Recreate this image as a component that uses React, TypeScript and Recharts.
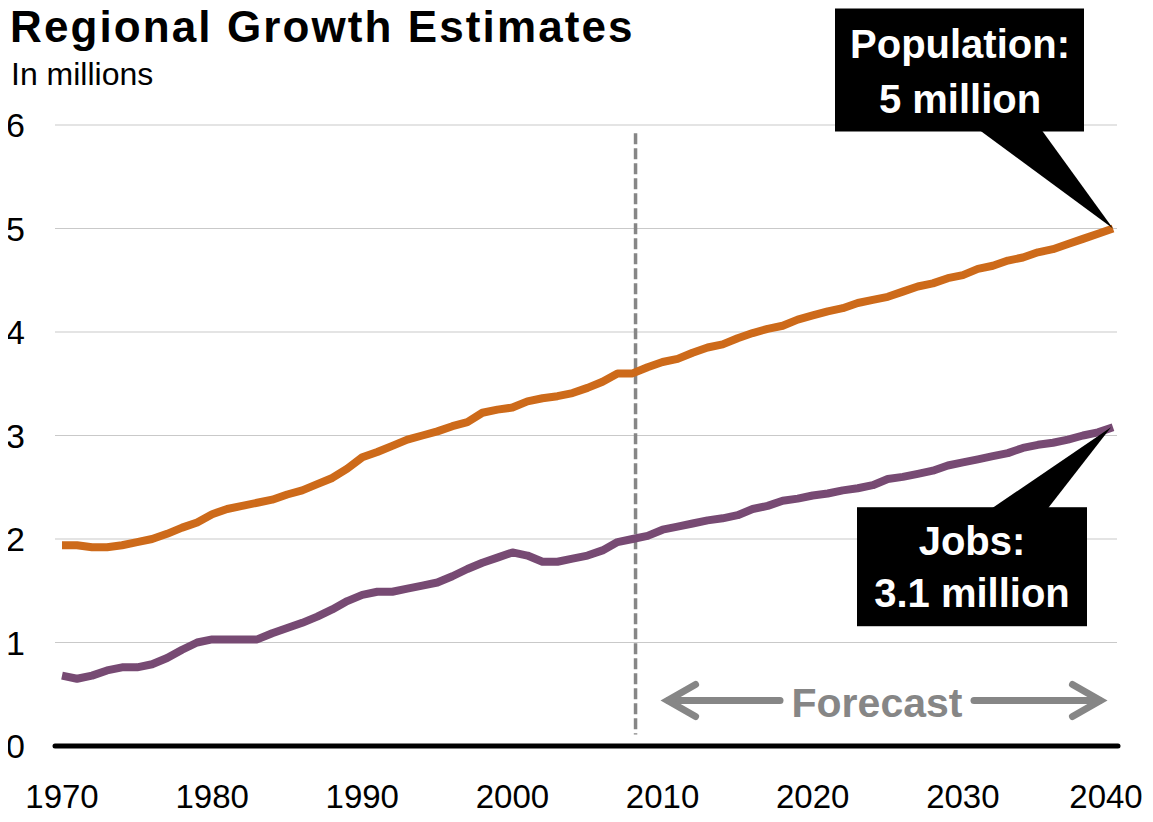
import React from 'react';
import { LineChart, Line, XAxis, YAxis, CartesianGrid, ReferenceLine, ReferenceDot } from 'recharts';

const years = [
  1970, 1971, 1972, 1973, 1974, 1975, 1976, 1977, 1978, 1979,
  1980, 1981, 1982, 1983, 1984, 1985, 1986, 1987, 1988, 1989,
  1990, 1991, 1992, 1993, 1994, 1995, 1996, 1997, 1998, 1999,
  2000, 2001, 2002, 2003, 2004, 2005, 2006, 2007, 2008, 2009,
  2010, 2011, 2012, 2013, 2014, 2015, 2016, 2017, 2018, 2019,
  2020, 2021, 2022, 2023, 2024, 2025, 2026, 2027, 2028, 2029,
  2030, 2031, 2032, 2033, 2034, 2035, 2036, 2037, 2038, 2039, 2040,
];

const population = [
  1.94, 1.94, 1.92, 1.92, 1.94, 1.97, 2.0, 2.05, 2.11, 2.16,
  2.24, 2.29, 2.32, 2.35, 2.38, 2.43, 2.47, 2.53, 2.59, 2.68,
  2.79, 2.84, 2.9, 2.96, 3.0, 3.04, 3.09, 3.13, 3.22, 3.25,
  3.27, 3.33, 3.36, 3.38, 3.41, 3.46, 3.52, 3.6, 3.6, 3.66,
  3.71, 3.74, 3.8, 3.85, 3.88, 3.94, 3.99, 4.03, 4.06, 4.12,
  4.16, 4.2, 4.23, 4.28, 4.31, 4.34, 4.39, 4.44, 4.47, 4.52,
  4.55, 4.61, 4.64, 4.69, 4.72, 4.77, 4.8, 4.85, 4.9, 4.95, 5.0,
];

const jobs = [
  0.68, 0.65, 0.68, 0.73, 0.76, 0.76, 0.79, 0.85, 0.93, 1.0,
  1.03, 1.03, 1.03, 1.03, 1.09, 1.14, 1.19, 1.25, 1.32, 1.4,
  1.46, 1.49, 1.49, 1.52, 1.55, 1.58, 1.64, 1.71, 1.77, 1.82,
  1.87, 1.84, 1.78, 1.78, 1.81, 1.84, 1.89, 1.97, 2.0, 2.03,
  2.09, 2.12, 2.15, 2.18, 2.2, 2.23, 2.29, 2.32, 2.37, 2.39,
  2.42, 2.44, 2.47, 2.49, 2.52, 2.58, 2.6, 2.63, 2.66, 2.71,
  2.74, 2.77, 2.8, 2.83, 2.88, 2.91, 2.93, 2.96, 3.0, 3.03, 3.08,
];

const xTicks = [1970, 1980, 1990, 2000, 2010, 2020, 2030, 2040];
const yTicks = [0, 1, 2, 3, 4, 5, 6];

const forecastStart = 2008.2;
const forecastArrow = { from: 2010.2, to: 2039.3, y: 0.44 };

const populationLabel = ['Population:', '5 million'];
const jobsLabel = ['Jobs:', '3.1 million'];

const data = years.map((year, i) => ({ year, population: population[i], jobs: jobs[i] }));

const FONT = '"Liberation Sans", Arial, sans-serif';
const ORANGE = '#CD6A1A';
const PURPLE = '#774A73';
const GREY = '#868686';

// last label is nudged left so it stays inside the frame
const XTick = (props: any) => (
  <text
    x={props.x - (props.payload.value === xTicks[xTicks.length - 1] ? 7 : 0)}
    y={808}
    textAnchor="middle"
    fontSize={33}
    fontFamily={FONT}
    fill="#000"
  >
    {props.payload.value}
  </text>
);

const YTick = (props: any) => (
  <text x={6} y={props.y + 12} textAnchor="start" fontSize={34} fontFamily={FONT} fill="#000">
    {props.payload.value}
  </text>
);

const gridLine = (props: any) => (
  <line key={props.key} x1={props.x1 - 7} x2={props.x2 + 4} y1={props.y1} y2={props.y2} stroke="#c9c9c9" strokeWidth={1.2} />
);

const ForecastShape = (props: any) => {
  const { x1, x2, y1 } = props;
  const mid = 877;
  const gap = 97;
  const head = 30;
  const spread = 16;
  const arrow = { stroke: GREY, strokeWidth: 7, strokeLinecap: 'round' as const, fill: 'none' };
  return (
    <g>
      <line x1={x1 + 3} y1={y1} x2={mid - gap} y2={y1} {...arrow} />
      <polyline points={`${x1 + head},${y1 - spread} ${x1 + 2},${y1} ${x1 + head},${y1 + spread}`} {...arrow} strokeLinejoin="miter" />
      <line x1={mid + gap} y1={y1} x2={x2 - 3} y2={y1} {...arrow} />
      <polyline points={`${x2 - head},${y1 - spread} ${x2 - 2},${y1} ${x2 - head},${y1 + spread}`} {...arrow} strokeLinejoin="miter" />
      <text x={mid} y={y1 + 17} textAnchor="middle" fontSize={41} fontWeight="bold" fontFamily={FONT} fill={GREY}>
        Forecast
      </text>
    </g>
  );
};

const PopulationCallout = (props: any) => {
  const { cx, cy } = props;
  return (
    <g>
      <polygon points={`${cx - 133},${cy - 98} ${cx - 71},${cy - 98} ${cx},${cy}`} fill="#000" />
      <rect x={cx - 278} y={cy - 220} width={249} height={123} fill="#000" />
      <text x={cx - 153} y={cy - 171} textAnchor="middle" fontSize={40} fontWeight="bold" fontFamily={FONT} fill="#fff">
        {populationLabel[0]}
      </text>
      <text x={cx - 153} y={cy - 116} textAnchor="middle" fontSize={40} fontWeight="bold" fontFamily={FONT} fill="#fff">
        {populationLabel[1]}
      </text>
    </g>
  );
};

const JobsCallout = (props: any) => {
  const { cx, cy } = props;
  return (
    <g>
      <polygon points={`${cx - 121},${cy + 81} ${cx - 65},${cy + 81} ${cx - 2},${cy}`} fill="#000" />
      <rect x={cx - 256} y={cy + 80} width={230} height={119} fill="#000" />
      <text x={cx - 141} y={cy + 128} textAnchor="middle" fontSize={40} fontWeight="bold" fontFamily={FONT} fill="#fff">
        {jobsLabel[0]}
      </text>
      <text x={cx - 141} y={cy + 180} textAnchor="middle" fontSize={40} fontWeight="bold" fontFamily={FONT} fill="#fff">
        {jobsLabel[1]}
      </text>
    </g>
  );
};

export default function App() {
  return (
    <div style={{ position: 'relative', width: 1153, height: 822, margin: -8, background: '#fff' }}>
      <svg width={700} height={100} style={{ position: 'absolute', left: 0, top: 0 }}>
        <text x={10} y={42} fontSize={44} fontWeight="bold" letterSpacing={2.1} fontFamily={FONT} fill="#000">
          Regional Growth Estimates
        </text>
        <text x={11} y={85} fontSize={32} fontFamily={FONT} fill="#000">
          In millions
        </text>
      </svg>
      <LineChart
        width={1153}
        height={822}
        data={data}
        margin={{ top: 125, right: 40, left: 0, bottom: 0 }}
        style={{ position: 'absolute', left: 0, top: 0, overflow: 'visible' }}
      >
        <CartesianGrid vertical={false} horizontal={gridLine} />
        <XAxis
          dataKey="year"
          type="number"
          domain={[1970, 2040]}
          ticks={xTicks}
          axisLine={false}
          tickLine={false}
          height={76}
          tick={<XTick />}
        />
        <YAxis
          domain={[0, 6]}
          ticks={yTicks}
          axisLine={false}
          tickLine={false}
          width={62}
          tick={<YTick />}
        />
        <ReferenceLine
          segment={[{ x: forecastStart, y: 5.92 }, { x: forecastStart, y: 0.11 }]}
          stroke={GREY}
          strokeWidth={3.5}
          strokeDasharray="11 4"
        />
        <ReferenceLine
          segment={[{ x: forecastArrow.from, y: forecastArrow.y }, { x: forecastArrow.to, y: forecastArrow.y }]}
          shape={ForecastShape}
        />
        <Line type="linear" dataKey="population" stroke={ORANGE} strokeWidth={8} dot={false} strokeLinejoin="round" isAnimationActive={false} />
        <Line type="linear" dataKey="jobs" stroke={PURPLE} strokeWidth={8} dot={false} strokeLinejoin="round" isAnimationActive={false} />
        <ReferenceLine
          y={0}
          shape={(p: any) => <line x1={p.x1 - 7} x2={p.x2 + 5} y1={p.y1} y2={p.y2} stroke="#000" strokeWidth={5} strokeLinecap="round" />}
        />
        <ReferenceDot x={2040} y={5.0} ifOverflow="visible" shape={PopulationCallout} />
        <ReferenceDot x={2040} y={3.08} ifOverflow="visible" shape={JobsCallout} />
      </LineChart>
    </div>
  );
}
